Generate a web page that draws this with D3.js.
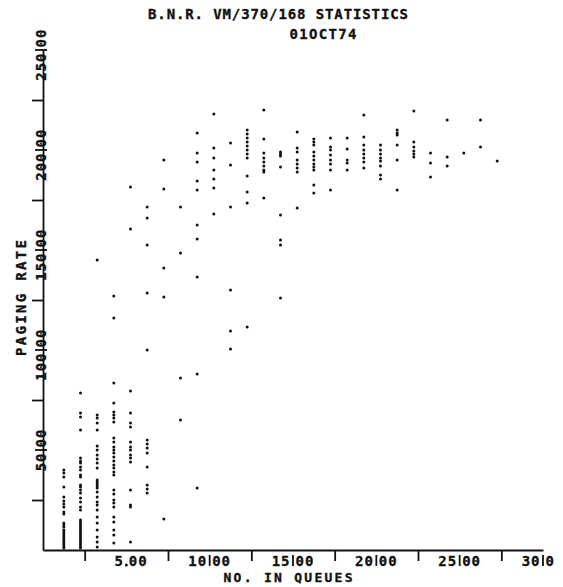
<!DOCTYPE html>
<html>
<head>
<meta charset="utf-8">
<script src="https://cdn.jsdelivr.net/npm/d3@7"></script>
<style>
body { margin: 0; background: #fff; }
text { font-family: "DejaVu Sans Mono", monospace; font-weight: bold; fill: #111; stroke: #111; stroke-width: 0.35px; }
</style>
</head>
<body>
<div id="chart"></div>
<script>
// plot titles
var titleLines = ["B.N.R. VM/370/168 STATISTICS", "01OCT74"];
var xTitle = "NO. IN QUEUES";
var yTitle = "PAGING RATE";

var queueCounts = [1.25, 2.25, 3.25, 4.25, 5.25, 6.25, 7.25, 8.25, 9.25, 10.25, 11.25, 12.25, 13.25, 14.25,
                   15.25, 16.25, 17.25, 18.25, 19.25, 20.25, 21.25, 22.25, 23.25, 24.25, 25.25, 26.25, 27.25];
var pagingRates = [
    [40, 38.5, 36.5, 31.5, 26.5, 24.5, 23, 21.5, 19, 18, 13.5, 12.5, 11.5, 10, 9, 8, 7, 6, 5, 4, 3, 2, 1],
    [78.5, 68.5, 66.5, 60, 46, 44.5, 43.5, 41.5, 40, 37.5, 36.5, 32.5, 31.5, 30, 28.5, 26, 24, 21.5, 20,
     15, 14, 13, 12, 11, 10, 9, 8, 7, 6, 5, 4, 3, 2, 1],
    [145, 67.5, 66, 63.5, 60, 52, 50, 47.5, 45.5, 43.5, 41, 35, 34, 33, 32, 31, 29, 26.5, 24, 22.5, 20,
     16.5, 13.5, 10, 6.5, 4, 1.5],
    [127, 116, 83.5, 73.5, 69, 67.5, 66, 64, 56, 54, 51.5, 50, 48.5, 46.5, 44.5, 42.5, 41, 39, 37.5, 30,
     28, 25, 23.5, 21.5, 16.5, 14, 10, 7.5, 3.5],
    [181.5, 160.5, 79.5, 68.5, 63.5, 61.5, 54, 51.5, 50, 47.5, 46, 44, 30, 22.5, 21.5, 4],
    [171.5, 166, 152.5, 128.5, 100, 55, 53, 51, 48.5, 41.5, 32.5, 30.5, 28.5],
    [195, 180.5, 141, 126.5, 15.5],
    [171.5, 148.5, 86, 65],
    [208.5, 198.5, 194, 184.5, 180, 162.5, 155.5, 136.5, 88, 31],
    [218, 201, 196, 190, 185.5, 181, 168],
    [203.5, 192.5, 171.5, 130, 109.5, 100.5],
    [210, 208, 206, 204, 202, 200, 198, 196, 187, 179, 173.5, 111.5],
    [220, 205.5, 198.5, 196, 194, 192, 190, 189, 176],
    [199, 198, 197, 191.5, 167.5, 155, 152.5, 126],
    [209, 201, 199, 195, 193, 191, 189, 171],
    [205.5, 204, 202.5, 199, 197, 195, 193, 191.5, 190, 182.5, 178.5],
    [206, 201.5, 200, 197.5, 195, 193, 190, 180],
    [206, 200.5, 195, 193.5, 190],
    [217.5, 206.5, 202.5, 200, 198, 196, 194, 191],
    [202.5, 200, 198, 196, 194.5, 192, 187.5, 185.5],
    [210, 208.5, 207.5, 202.5, 195, 180],
    [219.5, 204, 201.5, 199.5, 198, 196.5],
    [198.5, 193.5, 186.5],
    [215, 196.5, 192],
    [198.5],
    [215, 201.5],
    [194.5]
];

// tick labels (the decimal point is where the tick sits)
var xTickLabels = ["5.00", "10.00", "15.00", "20.00", "25.00", "30.0"];
var yTickLabels = ["50.00", "100.00", "150.00", "200.00", "250.00"];
var xMinorTicks = [2.5, 7.5, 12.5, 17.5, 22.5, 27.5];
var yMinorTicks = [25, 75, 125, 175, 225];

var width = 563, height = 587;

var svg = d3.select("#chart")
            .append("svg")
                .attr("width", width)
                .attr("height", height);

var x = d3.scaleLinear().domain([0, 30]).range([43, 543]);
var y = d3.scaleLinear().domain([0, 250]).range([550, 50]);

// axes: domain line + the unlabelled half-step ticks
var xAxis = svg.append("g")
    .attr("transform", "translate(0," + y(0) + ")")
    .call(d3.axisBottom(x).tickValues(xMinorTicks).tickSize(11).tickSizeOuter(0).tickFormat(""));
var yAxis = svg.append("g")
    .attr("transform", "translate(" + x(0) + ",0)")
    .call(d3.axisLeft(y).tickValues(yMinorTicks).tickSize(11).tickSizeOuter(0).tickFormat(""));
[xAxis, yAxis].forEach(function(a) {
    a.selectAll("path, line").attr("stroke", "#111").attr("stroke-width", 1.8);
});

// x labels, split round the decimal point
xTickLabels.forEach(function(label, i) {
    var v = parseFloat(label);
    var parts = label.split(".");
    var g = svg.append("g").attr("transform", "translate(" + x(v) + ",0)");
    g.append("text").attr("x", -2.5).attr("y", 566).attr("text-anchor", "end")
        .style("font-size", "14px").style("letter-spacing", "1px").text(parts[0]);
    g.append("text").attr("x", 2.5).attr("y", 566).attr("text-anchor", "start")
        .style("font-size", "14px").style("letter-spacing", "1px").text(parts[1]);
    if (i === 0) {
        g.append("circle").attr("cx", 0).attr("cy", 565).attr("r", 1.5).attr("fill", "#111");
    } else {
        g.append("line").attr("x1", 0).attr("x2", 0).attr("y1", 555).attr("y2", 566)
            .attr("stroke", "#111").attr("stroke-width", 1.8);
    }
});

// y labels, rotated, same split
yTickLabels.forEach(function(label) {
    var v = parseFloat(label);
    var parts = label.split(".");
    var g = svg.append("g").attr("transform", "translate(" + (x(0) + 3) + "," + y(v) + ") rotate(-90)");
    g.append("text").attr("x", -2.5).attr("y", 0).attr("text-anchor", "end")
        .style("font-size", "14px").style("letter-spacing", "1px").text(parts[0]);
    g.append("text").attr("x", 2.5).attr("y", 0).attr("text-anchor", "start")
        .style("font-size", "14px").style("letter-spacing", "1px").text(parts[1]);
    svg.append("line").attr("x1", x(0) - 8).attr("x2", x(0) + 4).attr("y1", y(v)).attr("y2", y(v))
        .attr("stroke", "#111").attr("stroke-width", 1.8);
});

// titles
svg.append("text").attr("x", 278).attr("y", 19).attr("text-anchor", "middle")
    .attr("textLength", 260).attr("lengthAdjust", "spacing")
    .style("font-size", "14px").text(titleLines[0]);
svg.append("text").attr("x", 323).attr("y", 39).attr("text-anchor", "middle")
    .attr("textLength", 67).attr("lengthAdjust", "spacing")
    .style("font-size", "14px").text(titleLines[1]);
svg.append("text").attr("x", 288).attr("y", 582).attr("text-anchor", "middle")
    .attr("textLength", 129).attr("lengthAdjust", "spacing")
    .style("font-size", "13px").text(xTitle);
svg.append("text").attr("transform", "translate(26,298) rotate(-90)").attr("text-anchor", "middle")
    .attr("textLength", 116).attr("lengthAdjust", "spacing")
    .style("font-size", "14px").text(yTitle);

// flatten columns into points
var points = [];
queueCounts.forEach(function(q, i) {
    pagingRates[i].forEach(function(r) { points.push({q: q, rate: r}); });
});

svg.append("g")
    .selectAll("circle")
    .data(points)
    .enter()
    .append("circle")
        .attr("cx", function(d) { return x(d.q); })
        .attr("cy", function(d) { return y(d.rate); })
        .attr("r", 1.5)
        .attr("fill", "#111");
</script>
</body>
</html>
